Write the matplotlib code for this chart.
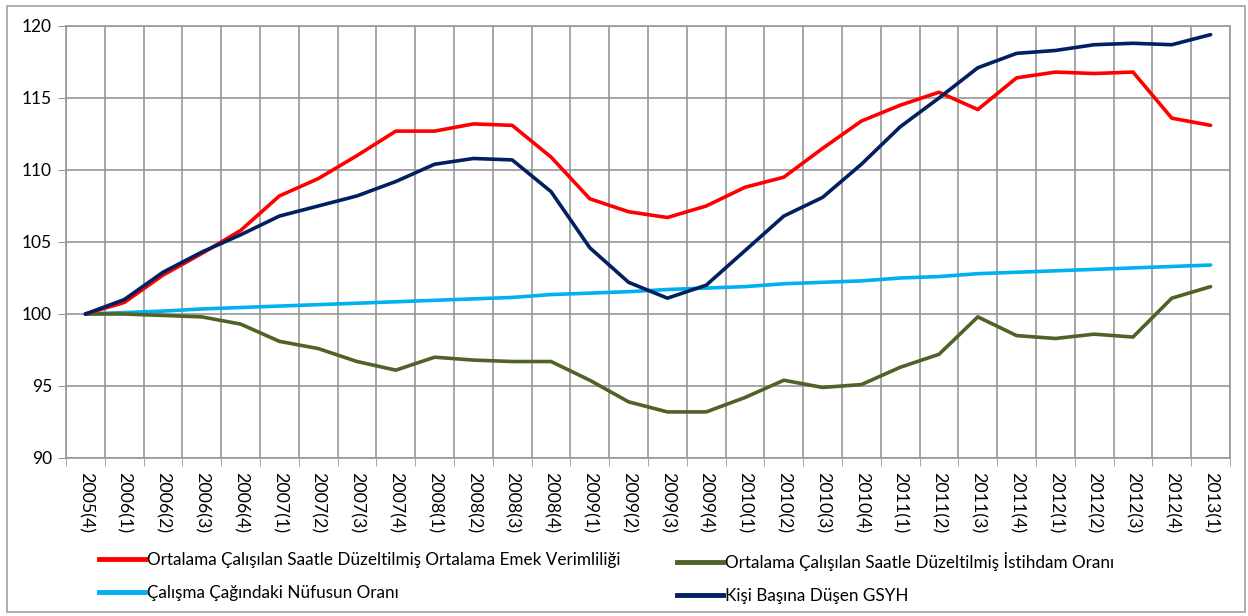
import numpy as np
import matplotlib.pyplot as plt
from matplotlib.lines import Line2D
from matplotlib.patches import Rectangle

plt.rcParams['font.family'] = ['Lato', 'DejaVu Sans']

quarters = ['2005(4)',
            '2006(1)', '2006(2)', '2006(3)', '2006(4)',
            '2007(1)', '2007(2)', '2007(3)', '2007(4)',
            '2008(1)', '2008(2)', '2008(3)', '2008(4)',
            '2009(1)', '2009(2)', '2009(3)', '2009(4)',
            '2010(1)', '2010(2)', '2010(3)', '2010(4)',
            '2011(1)', '2011(2)', '2011(3)', '2011(4)',
            '2012(1)', '2012(2)', '2012(3)', '2012(4)',
            '2013(1)']

# ortalama emek verimliligi
verimlilik = [100.0, 100.8, 102.7, 104.2, 105.8, 108.2, 109.4, 111.0, 112.7, 112.7,
              113.2, 113.1, 110.9, 108.0, 107.1, 106.7, 107.5, 108.8, 109.5, 111.5,
              113.4, 114.5, 115.4, 114.2, 116.4, 116.8, 116.7, 116.8, 113.6, 113.1]
# istihdam orani
istihdam = [100.0, 100.0, 99.9, 99.8, 99.3, 98.1, 97.6, 96.7, 96.1, 97.0,
            96.8, 96.7, 96.7, 95.4, 93.9, 93.2, 93.2, 94.2, 95.4, 94.9,
            95.1, 96.3, 97.2, 99.8, 98.5, 98.3, 98.6, 98.4, 101.1, 101.9]
# calisma cagindaki nufus
nufus = [100.0, 100.1, 100.2, 100.35, 100.45, 100.55, 100.65, 100.75, 100.85, 100.95,
         101.05, 101.15, 101.35, 101.45, 101.55, 101.7, 101.8, 101.9, 102.1, 102.2,
         102.3, 102.5, 102.6, 102.8, 102.9, 103.0, 103.1, 103.2, 103.3, 103.4]
# kisi basina GSYH
gsyh = [100.0, 101.0, 102.9, 104.3, 105.5, 106.8, 107.5, 108.2, 109.2, 110.4,
        110.8, 110.7, 108.5, 104.6, 102.2, 101.1, 102.0, 104.4, 106.8, 108.1,
        110.4, 113.0, 115.0, 117.1, 118.1, 118.3, 118.7, 118.8, 118.7, 119.4]

labels = ['Ortalama Çalışılan Saatle Düzeltilmiş Ortalama Emek Verimliliği',
          'Ortalama Çalışılan Saatle Düzeltilmiş İstihdam Oranı',
          'Çalışma Çağındaki Nüfusun Oranı',
          'Kişi Başına Düşen GSYH']
colors = ['#FF0000', '#4F6228', '#00B0F0', '#002060']

grid_c = '#979797'

fig = plt.figure(figsize=(12.48, 6.16), dpi=100)
ax = fig.add_axes([66/1248, 1-458/616, (1230-66)/1248, (458-26)/616])

x = np.arange(len(quarters))
lw = 2.6
ax.plot(x, nufus, color=colors[2], lw=lw, solid_capstyle='round')
ax.plot(x, istihdam, color=colors[1], lw=lw, solid_capstyle='round')
ax.plot(x, verimlilik, color=colors[0], lw=lw, solid_capstyle='round')
ax.plot(x, gsyh, color=colors[3], lw=lw, solid_capstyle='round')

ax.set_xlim(-0.5, len(quarters) - 0.5)
ax.set_ylim(90, 120)
ax.set_yticks(np.arange(90, 121, 5))
ax.set_xticks(x)
ax.set_xticklabels(quarters, rotation=-90, fontsize=12.8)
ax.set_xticks(np.arange(-0.5, len(quarters), 1), minor=True)
ax.tick_params(axis='x', which='major', length=0, pad=10)
ax.tick_params(axis='x', which='minor', length=6, color=grid_c)
ax.tick_params(axis='y', length=6, color=grid_c, labelsize=12.5, pad=4)
ax.grid(axis='y', which='major', color=grid_c, lw=1.2)
ax.grid(axis='x', which='minor', color=grid_c, lw=1.2)
ax.set_axisbelow(True)
for s in ax.spines.values():
    s.set_color(grid_c)
    s.set_linewidth(1.2)

h = [Line2D([], [], color=c, lw=3.5) for c in colors]
leg_kw = dict(loc='upper left', frameon=False, fontsize=12.3, handlelength=2.7,
              handletextpad=0.1, labelspacing=1.0, borderaxespad=0)
fig.legend([h[0], h[2]], [labels[0], labels[2]],
           bbox_to_anchor=(92/1248, 1-545/616), **leg_kw)
fig.legend([h[1], h[3]], [labels[1], labels[3]],
           bbox_to_anchor=(670/1248, 1-545/616), **leg_kw)

fig.patches.append(Rectangle((7/1248, 1-612/616), 1238/1248, 606/616,
                             transform=fig.transFigure, fill=False,
                             edgecolor='#A0A0A0', lw=1.2))

fig.savefig('out.png', dpi=100)
